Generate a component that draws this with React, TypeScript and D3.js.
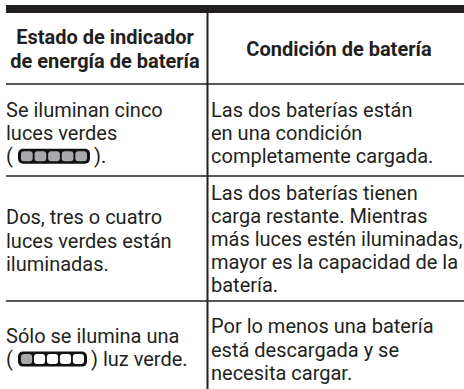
import * as React from 'react';
import * as d3 from 'd3';

const headers = [['Estado de indicador', 'de energía de batería'], ['Condición de batería']];
const stateLines = [
  ['Se iluminan cinco', 'luces verdes', '(@).'],
  ['Dos, tres o cuatro', 'luces verdes están', 'iluminadas.'],
  ['Sólo se ilumina una', '(@) luz verde.'],
];
const conditionLines = [
  ['Las dos baterías están', 'en una condición', 'completamente cargada.'],
  ['Las dos baterías tienen', 'carga restante. Mientras', 'más luces estén iluminadas,', 'mayor es la capacidad de la', 'batería.'],
  ['Por lo menos una batería', 'está descargada y se', 'necesita cargar.'],
];
const litCells = [5, 0, 1];
const ruleYs = [84, 176, 301];
const stateMids = [133, 240.5, 347.5];
const conditionMids = [133, 239, 349.5];
const indicatorWidths = [72, 0, 69];
const FONT = 'Roboto, sans-serif';
const INK = '#231f20';
const FONT_SIZE = 20;
const LINE_H = 23.2;

const columnScale = d3.scaleLinear().domain([0, 1]).range([6, 464]);
const dividerX = 207.5;
const cellIds = d3.range(5);

function Indicator({ x, y, w, lit }: { x: number; y: number; w: number; lit: number }) {
  const cell = d3.scaleBand<number>().domain(cellIds).range([x + 3, x + w - 3]).paddingInner(0.14);
  return (
    <g>
      <rect x={x} y={y - 7.5} width={w} height={15} rx={5} fill="#111" />
      {cellIds.map(i => (
        <rect key={i} x={cell(i)} y={y - 5} width={cell.bandwidth()} height={10} rx={3}
          fill={i < lit ? '#a7a9ac' : '#fff'} />
      ))}
    </g>
  );
}

function CellText({ lines, x, mid, lit, w }: { lines: string[]; x: number; mid: number; lit: number; w: number }) {
  const top = mid - (lines.length - 1) * LINE_H / 2;
  const label = (tx: number, y: number, s: string) => (
    <text x={tx} y={y} dy="0.35em" fontFamily={FONT} fontSize={FONT_SIZE} fill={INK}>{s}</text>
  );
  return (
    <g>
      {lines.map((l, i) => {
        const y = top + i * LINE_H;
        const parts = l.split('@');
        if (parts.length === 1) return <g key={i}>{label(x, y, l)}</g>;
        return (
          <g key={i}>
            {label(x, y, parts[0])}
            <Indicator x={x + 12} y={y} w={w} lit={lit} />
            {label(x + 12 + w + 4, y, parts[1])}
          </g>
        );
      })}
    </g>
  );
}

export default function App() {
  return (
    <svg width={464} height={389} style={{ position: 'absolute', left: 0, top: 0, background: '#fff' }}>
      <text x={124} y={-4} fontFamily={FONT} fontSize={FONT_SIZE} fill={INK}>g</text>
      <rect x={columnScale(0)} y={5} width={458} height={8} fill={INK} />
      <line x1={dividerX} x2={dividerX} y1={13} y2={389} stroke={INK} strokeWidth={2} />
      {ruleYs.map(e => (
        <line key={e} x1={columnScale(0)} x2={columnScale(1)} y1={e} y2={e} stroke={INK} strokeWidth={1.5} />
      ))}
      {headers[0].map((l, i) => (
        <text key={l} x={105} y={37 + i * 23.5} dy="0.35em" textAnchor="middle" fontFamily={FONT}
          fontWeight={700} fontSize={FONT_SIZE} fill={INK}>{l}</text>
      ))}
      <text x={339} y={49} dy="0.35em" textAnchor="middle" fontFamily={FONT} fontWeight={700}
        fontSize={FONT_SIZE} fill={INK}>{headers[1][0]}</text>
      {stateLines.map((lines, i) => (
        <CellText key={i} lines={lines} x={6} mid={stateMids[i]} lit={litCells[i]} w={indicatorWidths[i]} />
      ))}
      {conditionLines.map((lines, i) => (
        <CellText key={i} lines={lines} x={211} mid={conditionMids[i]} lit={0} w={0} />
      ))}
    </svg>
  );
}
